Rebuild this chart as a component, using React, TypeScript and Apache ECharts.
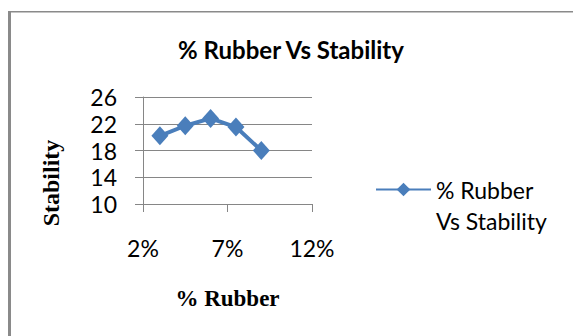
import React, { useEffect, useRef } from "react";
import * as echarts from "echarts";

const seriesName = "% Rubber Vs Stability";
const rubberPct = [3, 4.5, 6, 7.5, 9];
const stability = [20.2, 21.7, 22.8, 21.5, 18.0];
const xTicks = { min: 2, max: 12, interval: 5 };
const yTicks = { min: 10, max: 26, interval: 4 };
const titleText = "% Rubber Vs Stability";
const xName = "% Rubber";
const yName = "Stability";
const legendLines = ["% Rubber", "Vs Stability"];

const BLUE = "#4a7ebb";
const GRAY = "#868686";
const SANS = "Lato, 'Open Sans', sans-serif";
const SERIF = "'Liberation Serif', 'DejaVu Serif', serif";

export default function App() {
  const ref = useRef<HTMLDivElement>(null);
  useEffect(() => {
    if (!ref.current) return;
    const chart = echarts.init(ref.current, undefined, { renderer: "svg" });
    chart.setOption({
      animation: false,
      backgroundColor: "#ffffff",
      grid: { left: 143, top: 97, width: 169, height: 107, containLabel: false },
      xAxis: {
        type: "value",
        min: xTicks.min,
        max: xTicks.max,
        interval: xTicks.interval,
        axisLine: { show: true, lineStyle: { color: GRAY, width: 1 } },
        axisTick: { show: true, length: 8, lineStyle: { color: GRAY } },
        splitLine: { show: false },
        axisLabel: {
          margin: 33,
          color: "#000",
          fontFamily: SANS,
          fontSize: 23,
          lineHeight: 22,
          formatter: (v: number) => `${v}%`,
        },
      },
      yAxis: {
        type: "value",
        min: yTicks.min,
        max: yTicks.max,
        interval: yTicks.interval,
        axisLine: { show: true, lineStyle: { color: GRAY, width: 1 } },
        axisTick: { show: true, length: 8, lineStyle: { color: GRAY } },
        splitLine: { show: true, lineStyle: { color: GRAY, width: 1 } },
        axisLabel: {
          margin: 26,
          color: "#000",
          fontFamily: SANS,
          fontSize: 23,
          lineHeight: 22,
        },
      },
      legend: {
        left: 375,
        top: 143,
        padding: 0,
        itemWidth: 55,
        itemHeight: 17,
        formatter: () => `\n${legendLines[0]}\n${legendLines[1]}`,
        textStyle: {
          color: "#000",
          fontFamily: SANS,
          fontSize: 23,
          lineHeight: 31,
        },
        data: [seriesName],
      },
      series: [
        {
          name: seriesName,
          type: "line",
          data: rubberPct.map((x, i) => [x, stability[i]]),
          symbol: "diamond",
          symbolSize: [17, 19],
          lineStyle: { color: BLUE, width: 4 },
          itemStyle: { color: BLUE },
        },
      ],
      graphic: [
        {
          type: "line",
          shape: { x1: 9.5, y1: 11, x2: 9.5, y2: 340 },
          style: { stroke: "#8a8a8a", lineWidth: 3 },
          silent: true,
        },
        {
          type: "line",
          shape: { x1: 8, y1: 11.75, x2: 580, y2: 11.75 },
          style: { stroke: "#8a8a8a", lineWidth: 1.5 },
          silent: true,
        },
        {
          type: "text",
          x: 291,
          y: 49,
          style: {
            text: titleText,
            fill: "#000",
            font: `bold 24px ${SANS}`,
            textAlign: "center",
            textVerticalAlign: "middle",
          },
        },
        {
          type: "text",
          x: 227.5,
          y: 298,
          style: {
            text: xName,
            fill: "#000",
            font: `bold 23px ${SERIF}`,
            textAlign: "center",
            textVerticalAlign: "middle",
          },
        },
        {
          type: "text",
          x: 51,
          y: 183,
          rotation: Math.PI / 2,
          style: {
            text: yName,
            fill: "#000",
            font: `bold 24px ${SERIF}`,
            textAlign: "center",
            textVerticalAlign: "middle",
          },
        },
      ],
    });
    return () => chart.dispose();
  }, []);
  return (
    <div
      ref={ref}
      style={{ position: "absolute", left: 0, top: 0, width: 573, height: 336 }}
    />
  );
}
